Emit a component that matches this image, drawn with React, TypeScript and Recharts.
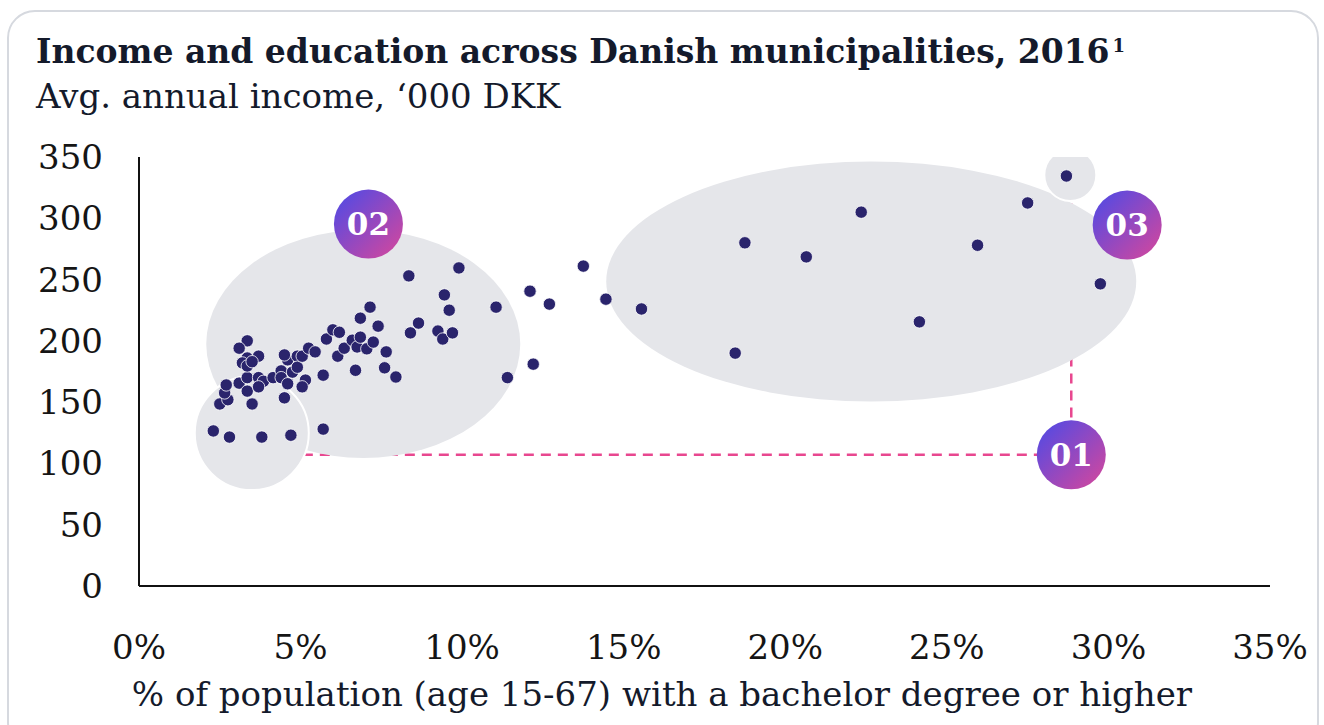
import React from "react";
import {
  ScatterChart,
  Scatter,
  XAxis,
  YAxis,
  ReferenceLine,
} from "recharts";

// % of population (15-67) with a bachelor degree or higher
const eduShare = [
  2.3, 2.8, 3.8, 4.7, 5.7, 2.5, 2.75, 2.65, 2.7, 3.1, 3.35, 3.5, 3.35, 3.7, 3.85,
  3.7, 4.15, 3.35, 3.1, 3.7, 3.35, 3.2, 3.35, 3.5, 4.4, 4.4, 4.6, 4.5, 4.6, 4.5,
  4.75, 4.9, 4.9, 5.05, 5.15, 5.05, 5.25, 5.45, 5.7, 5.8, 6.0, 6.2, 6.15, 6.35,
  6.6, 6.75, 6.85, 7.05, 7.25, 6.85, 7.15, 7.4, 7.65, 6.7, 7.6, 7.95, 8.35, 9.9,
  9.45, 9.6, 8.65, 8.4, 9.25, 9.4, 9.7, 11.05, 11.4, 12.2, 12.1, 12.7, 13.75,
  14.45, 15.55, 18.75, 20.65, 22.35, 18.45, 25.95, 24.15, 27.5, 28.7, 29.75,
];

// avg. annual income, '000 DKK
const avgIncome = [
  126.5, 121.5, 121.5, 123, 128, 148.5, 152, 157.5, 164, 165.5, 159, 148.5, 170,
  170, 167, 162.5, 170, 200, 194, 187.5, 186, 182, 179.5, 183, 175.5, 170, 184.5,
  188.5, 165, 153.5, 174.5, 187.5, 178.5, 187.5, 168, 162.5, 194, 191, 172, 201.5,
  209, 207, 187.5, 194, 200.5, 195, 203, 193.5, 199, 218.5, 227.5, 212, 191, 176,
  178, 170.5, 253, 259.5, 237.5, 225, 214.5, 206.5, 208, 201.5, 206.5, 227.5, 170,
  181, 240.5, 230, 261, 234, 226, 280, 268.5, 305, 190, 278, 215.5, 312.5, 334.5,
  246.5,
];

const xTicks = [0, 5, 10, 15, 20, 25, 30, 35];
const yTicks = [0, 50, 100, 150, 200, 250, 300, 350];

const points = eduShare.map((x, i) => ({ x, y: avgIncome[i] }));

// annotation anchors (data coordinates)
const bigZones = [
  { x: 6.94, y: 197.4, rx: 157, ry: 114 },
  { x: 22.66, y: 248.4, rx: 265, ry: 120 },
];
const smallZones = [
  { x: 3.49, y: 124.8, rx: 57, ry: 57 },
  { x: 28.82, y: 335.3, rx: 26, ry: 26 },
];
const badges = [
  { x: 28.85, y: 107, label: "01" },
  { x: 7.1, y: 295.3, label: "02" },
  { x: 30.58, y: 294.5, label: "03" },
];

const FONT = "'DejaVu Serif', 'Liberation Serif', serif";
const INK = "#141a2b";
const DOT = "#2a246c";
const ZONE = "#e5e6ea";
const PINK = "#e8478f";

const Zone = (props: any) => {
  const { cx, cy, payload } = props;
  return <ellipse cx={cx} cy={cy} rx={payload.rx} ry={payload.ry} fill={ZONE} />;
};

const SmallZone = (props: any) => {
  const { cx, cy, payload } = props;
  return (
    <ellipse
      cx={cx}
      cy={cy}
      rx={payload.rx}
      ry={payload.ry}
      fill={ZONE}
      stroke="#ffffff"
      strokeWidth={2}
    />
  );
};

const Dot = (props: any) => {
  const { cx, cy } = props;
  return <circle cx={cx} cy={cy} r={6.2} fill={DOT} stroke="#ffffff" strokeWidth={0.8} />;
};

const Badge = (props: any) => {
  const { cx, cy, payload } = props;
  const id = `badge-grad-${payload.label}`;
  return (
    <g>
      <defs>
        <linearGradient id={id} x1="0" y1="0" x2="1" y2="1">
          <stop offset="0%" stopColor="#4a4ae8" />
          <stop offset="100%" stopColor="#d9479a" />
        </linearGradient>
      </defs>
      <circle cx={cx} cy={cy} r={34.5} fill={`url(#${id})`} />
      <text
        x={cx}
        y={cy + 11}
        textAnchor="middle"
        fill="#ffffff"
        fontFamily={FONT}
        fontWeight="bold"
        fontSize={31}
      >
        {payload.label}
      </text>
    </g>
  );
};

export default function App() {
  return (
    <div style={{ position: "absolute", left: 0, top: 0, width: 1324, height: 725, overflow: "hidden", background: "#fff" }}>
      <div
        style={{
          position: "absolute",
          left: 7,
          top: 10,
          width: 1312,
          height: 740,
          border: "2px solid #d6d9df",
          borderRadius: 28,
          boxSizing: "border-box",
        }}
      />
      <div
        style={{
          position: "absolute",
          left: 36,
          top: 35,
          fontFamily: FONT,
          fontWeight: "bold",
          fontSize: 33,
          lineHeight: 1,
          color: INK,
          whiteSpace: "nowrap",
        }}
      >
        Income and education across Danish municipalities, 2016
        <span style={{ fontSize: 18, position: "relative", top: -11, marginLeft: 3 }}>1</span>
      </div>
      <div
        style={{
          position: "absolute",
          left: 36,
          top: 79,
          fontFamily: FONT,
          fontSize: 34,
          lineHeight: 1,
          color: INK,
          whiteSpace: "nowrap",
        }}
      >
        Avg. annual income, ‘000 DKK
      </div>
      <div style={{ position: "absolute", left: 0, top: 0 }}>
        <ScatterChart
          width={1324}
          height={725}
          margin={{ top: 157, right: 54, bottom: 79, left: 39 }}
        >
          <XAxis
            type="number"
            dataKey="x"
            domain={[0, 35]}
            ticks={xTicks}
            tickFormatter={(v) => `${v}%`}
            tickLine={false}
            tickMargin={43}
            axisLine={{ stroke: "#111111", strokeWidth: 2 }}
            tick={{ fontSize: 34, fontFamily: FONT, fill: "#151515" }}
            height={60}
            allowDataOverflow
          />
          <YAxis
            type="number"
            dataKey="y"
            domain={[0, 350]}
            ticks={yTicks}
            tickLine={false}
            tickMargin={30}
            axisLine={{ stroke: "#111111", strokeWidth: 2 }}
            tick={{ fontSize: 34, fontFamily: FONT, fill: "#151515" }}
            width={100}
            allowDataOverflow
          />
          <Scatter data={bigZones} shape={Zone} isAnimationActive={false} />
          <Scatter data={smallZones} shape={SmallZone} isAnimationActive={false} />
          <ReferenceLine
            segment={[{ x: 5.07, y: 107 }, { x: 27.8, y: 107 }]}
            stroke={PINK}
            strokeWidth={2.5}
            strokeDasharray="10 7"
          />
          <ReferenceLine
            segment={[{ x: 28.85, y: 137.5 }, { x: 28.85, y: 314 }]}
            stroke={PINK}
            strokeWidth={2.5}
            strokeDasharray="10 7"
          />
          <Scatter data={points} shape={Dot} isAnimationActive={false} />
          <Scatter data={badges} shape={Badge} isAnimationActive={false} />
        </ScatterChart>
      </div>
      <div
        style={{
          position: "absolute",
          left: 0,
          width: 1324,
          top: 677,
          textAlign: "center",
          fontFamily: FONT,
          fontSize: 34,
          lineHeight: 1,
          color: INK,
          whiteSpace: "nowrap",
        }}
      >
        % of population (age 15-67) with a bachelor degree or higher
      </div>
    </div>
  );
}
